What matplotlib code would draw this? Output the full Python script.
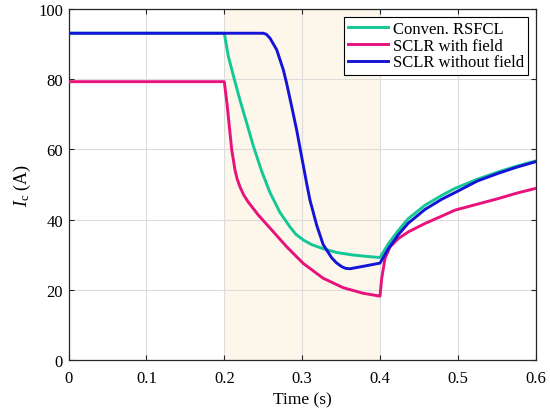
""" Critical current of the three limiter types during and after the fault """

import matplotlib
matplotlib.use("Agg")
import matplotlib.pyplot as plt

plt.rcParams['font.family'] = ['Liberation Serif', 'DejaVu Serif']
plt.rcParams['mathtext.fontset'] = 'custom'
plt.rcParams['mathtext.rm'] = 'Liberation Serif'
plt.rcParams['mathtext.it'] = 'Liberation Serif:italic'

#values
t_conv = [0, 0.2, 0.2052, 0.2125, 0.2202, 0.2288, 0.2373, 0.248, 0.2587, 0.2716,
          0.2844, 0.292, 0.3015, 0.312, 0.327, 0.345, 0.3657, 0.384, 0.4,
          0.4107, 0.4235, 0.4364, 0.4578, 0.4793, 0.4963, 0.525, 0.552, 0.575, 0.6]
ic_conv = [93.1, 93.1, 86.5, 80.3, 74.0, 67.5, 61.0, 53.8, 47.7, 42.0,
           37.9, 35.8, 34.2, 32.9, 31.7, 30.6, 29.9, 29.5, 29.2,
           33.1, 36.9, 40.3, 44.1, 46.9, 48.9, 51.5, 53.6, 55.2, 56.7]

t_field = [0, 0.2, 0.2035, 0.2065, 0.2095, 0.2137, 0.2165, 0.2202, 0.225, 0.2308,
           0.2437, 0.2587, 0.28, 0.3015, 0.327, 0.3528, 0.3786, 0.4, 0.4021,
           0.4064, 0.4128, 0.4235, 0.4364, 0.4578, 0.4793, 0.4963, 0.525, 0.552,
           0.575, 0.6]
ic_field = [79.3, 79.3, 73.0, 66.5, 60.0, 54.2, 51.6, 49.3, 47.0, 45.0,
            41.3, 37.6, 32.3, 27.5, 23.3, 20.6, 19.0, 18.2, 23.1,
            28.9, 32.2, 34.6, 36.5, 38.9, 41.0, 42.7, 44.4, 46.0,
            47.5, 48.9]

t_nofield = [0, 0.25, 0.254, 0.2587, 0.2673, 0.2758, 0.28, 0.2866, 0.293, 0.2994,
             0.3058, 0.31, 0.3187, 0.327, 0.338, 0.344, 0.3508, 0.356, 0.3615,
             0.3786, 0.4, 0.4107, 0.4235, 0.4364, 0.4578, 0.4793, 0.4963, 0.525,
             0.552, 0.575, 0.6]
ic_nofield = [93.1, 93.1, 92.8, 91.7, 88.4, 82.7, 78.9, 72.2, 65.5, 57.9,
              50.3, 45.6, 38.4, 32.9, 29.1, 27.7, 26.6, 26.1, 26.0,
              26.7, 27.6, 31.7, 35.7, 39.0, 42.9, 45.8, 47.7, 51.0,
              53.2, 54.9, 56.5]

fault_start = 0.2
fault_end = 0.4

fig = plt.figure(figsize=(5.5, 4.14), dpi=100)
ax = fig.add_axes([0.1247, 0.128, 0.974 - 0.1247, 0.9758 - 0.128])

ax.axvspan(fault_start, fault_end, color="#fdf6ea", zorder=0, linewidth=0)

ax.plot(t_conv, ic_conv, color="#14c896", linewidth=2.1, label="Conven. RSFCL", zorder=3)
ax.plot(t_field, ic_field, color="#e8127c", linewidth=2.1, label="SCLR with field", zorder=3)
ax.plot(t_nofield, ic_nofield, color="#1414d6", linewidth=2.1, label="SCLR without field", zorder=4)

ax.set_xlim(0, 0.6)
ax.set_ylim(0, 100)
ax.set_xticks([0, 0.1, 0.2, 0.3, 0.4, 0.5, 0.6])
ax.set_xticklabels(["0", "0.1", "0.2", "0.3", "0.4", "0.5", "0.6"])
ax.set_yticks([0, 20, 40, 60, 80, 100])
ax.grid(True, color="#dcdcdc", linewidth=0.8, zorder=1)
ax.set_axisbelow(True)

ax.tick_params(direction="in", top=True, right=True, length=3.5, width=0.8,
               labelsize=12, colors="#262626", pad=4)
ax.tick_params(axis="x", pad=7)
for tl in ax.get_xticklabels() + ax.get_yticklabels():
    tl.set_color("black")
for s in ax.spines.values():
    s.set_color("#262626")
    s.set_linewidth(0.9)

ax.set_xlabel("Time (s)", fontsize=12.5, labelpad=4)
ax.set_ylabel(r"$I_\mathrm{c}$ (A)", fontsize=13, labelpad=4)

leg = ax.legend(loc="upper right", fontsize=12, frameon=True, fancybox=False,
                framealpha=1, edgecolor="black", handlelength=2.4,
                labelspacing=0.05, borderpad=0.25, borderaxespad=0.45,
                handletextpad=0.3)
leg.get_frame().set_linewidth(0.8)

plt.savefig("out.png", dpi=100)
